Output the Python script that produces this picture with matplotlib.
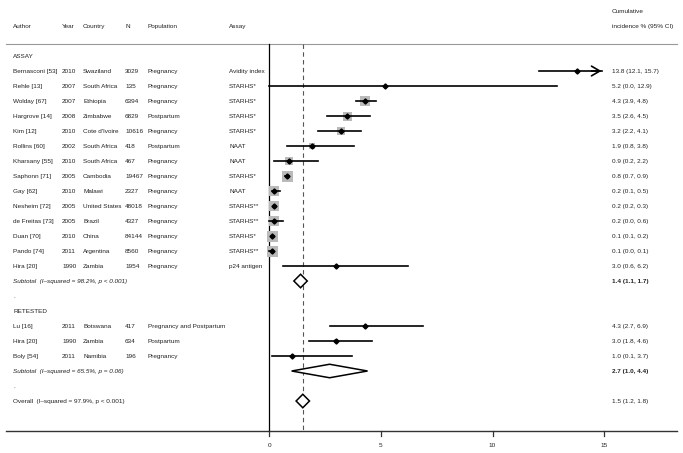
import matplotlib
matplotlib.use("Agg")
import matplotlib.pyplot as plt
from matplotlib.patches import Polygon

plt.rcParams['font.family'] = ['Liberation Sans Narrow', 'Liberation Sans', 'DejaVu Sans']

# study rows
authors = ["Bernasconi [53]", "Rehle [13]", "Wolday [67]", "Hargrove [14]", "Kim [12]",
           "Rollins [60]", "Kharsany [55]", "Saphonn [71]", "Gay [62]", "Nesheim [72]",
           "de Freitas [73]", "Duan [70]", "Pando [74]", "Hira [20]",
           "Lu [16]", "Hira [20]", "Boly [54]"]
years = ["2010", "2007", "2007", "2008", "2010", "2002", "2010", "2005", "2010", "2005",
         "2005", "2010", "2011", "1990", "2011", "1990", "2011"]
countries = ["Swaziland", "South Africa", "Ethiopia", "Zimbabwe", "Cote d'Ivoire",
             "South Africa", "South Africa", "Cambodia", "Malawi", "United States",
             "Brazil", "China", "Argentina", "Zambia", "Botswana", "Zambia", "Namibia"]
ns = ["3029", "135", "6394", "6829", "10616", "418", "467", "19467", "2327", "48018",
      "4327", "84144", "8560", "1954", "417", "634", "196"]
populations = ["Pregnancy", "Pregnancy", "Pregnancy", "Postpartum", "Pregnancy",
               "Postpartum", "Pregnancy", "Pregnancy", "Pregnancy", "Pregnancy",
               "Pregnancy", "Pregnancy", "Pregnancy", "Pregnancy",
               "Pregnancy and Postpartum", "Postpartum", "Pregnancy"]
assays = ["Avidity index", "STARHS*", "STARHS*", "STARHS*", "STARHS*", "NAAT", "NAAT",
          "STARHS*", "NAAT", "STARHS**", "STARHS**", "STARHS*", "STARHS**", "p24 antigen",
          "", "", ""]
est = [13.8, 5.2, 4.3, 3.5, 3.2, 1.9, 0.9, 0.8, 0.2, 0.2, 0.2, 0.1, 0.1, 3.0, 4.3, 3.0, 1.0]
lo = [12.1, 0.0, 3.9, 2.6, 2.2, 0.8, 0.2, 0.7, 0.1, 0.2, 0.0, 0.1, 0.0, 0.6, 2.7, 1.8, 0.1]
hi = [15.7, 12.9, 4.8, 4.5, 4.1, 3.8, 2.2, 0.9, 0.5, 0.3, 0.6, 0.2, 0.1, 6.2, 6.9, 4.6, 3.7]
weight_px = [0, 0, 10.5, 9, 8.5, 6, 8, 11, 10, 10.5, 10, 11, 11, 0, 0, 5, 3]
study_rows = list(range(1, 15)) + [18, 19, 20]

# pooled rows
pooled_labels = ["Subtotal  (I\u2013squared = 98.2%, p < 0.001)",
                 "Subtotal  (I\u2013squared = 65.5%, p = 0.06)",
                 "Overall  (I\u2013squared = 97.9%, p < 0.001)"]
pooled_est = [1.4, 2.7, 1.5]
pooled_lo = [1.1, 1.0, 1.2]
pooled_hi = [1.7, 4.4, 1.8]
pooled_rows = [15, 21, 23]
overall = 1.5
xticks = [0, 5, 10, 15]

W, H = 683, 453
fig = plt.figure(figsize=(W / 100, H / 100), dpi=100)
ax = fig.add_axes([0, 0, 1, 1])
ppu = 22.33   # pixels per unit
x0 = 269.3
ax.set_xlim(-x0 / ppu, (W - x0) / ppu)
ax.set_ylim((H - 56) / 15, -56 / 15)
ax.axis("off")

def px(x):
    return (x - x0) / ppu

fs = 4.6
tc = "#222222"
va = "center_baseline"
tr = ax.get_yaxis_transform()

# header
cols = [13, 62, 83, 125, 148, 229]
heads = ["Author", "Year", "Country", "N", "Population", "Assay"]
for c, h in zip(cols, heads):
    ax.text(c / W, -2, h, transform=tr, fontsize=fs, va=va, color=tc)
ax.text(612 / W, -3, "Cumulative", transform=tr, fontsize=fs, va=va, color=tc)
ax.text(612 / W, -2, "incidence % (95% CI)", transform=tr, fontsize=fs, va=va, color=tc)

# frame lines
ax.plot([px(6), px(677)], [-0.8, -0.8], color="#999999", lw=0.8)
ax.plot([px(6), px(677)], [25, 25], color="#333333", lw=1.0)
ax.plot([0, 0], [-0.8, 25], color="black", lw=0.9)
ax.plot([overall, overall], [-0.8, 25], color="#555555", lw=0.8, ls=(0, (4, 3)))
for t in xticks:
    ax.plot([t, t], [25, 25.35], color="#333333", lw=0.9)
    ax.text(t, 25.95, str(t), fontsize=fs, ha="center", va=va, color=tc)

# section labels
ax.text(13 / W, 0, "ASSAY", transform=tr, fontsize=fs, va=va, color=tc)
ax.text(13 / W, 17, "RETESTED", transform=tr, fontsize=fs, va=va, color=tc)
ax.text(13 / W, 16, ".", transform=tr, fontsize=fs, va=va, color=tc)
ax.text(13 / W, 22, ".", transform=tr, fontsize=fs, va=va, color=tc)

# studies
for i, r in enumerate(study_rows):
    vals = [authors[i], years[i], countries[i], ns[i], populations[i], assays[i]]
    for c, v in zip(cols, vals):
        ax.text(c / W, r, v, transform=tr, fontsize=fs, va=va, color=tc)
    if weight_px[i] > 0:
        ax.scatter(est[i], r, marker="s", s=(weight_px[i] * 0.72) ** 2,
                   color="#bababa", zorder=2, linewidths=0)
    if hi[i] > 15:
        ax.plot([lo[i], 14.9], [r, r], color="black", lw=1.2, zorder=3)
        ax.annotate("", xy=(15.0, r), xytext=(14.3, r),
                    arrowprops=dict(arrowstyle="->,head_length=0.6,head_width=0.35",
                                    color="black", lw=1.2), zorder=3)
    else:
        ax.plot([lo[i], hi[i]], [r, r], color="black", lw=1.2, zorder=3)
    ax.plot(est[i], r, marker="D", ms=2.6, color="black", zorder=4)
    ax.text(612 / W, r, f"{est[i]:.1f} ({lo[i]:.1f}, {hi[i]:.1f})", transform=tr,
            fontsize=fs, va=va, color=tc)

# pooled diamonds
for j, r in enumerate(pooled_rows):
    h = 0.45
    poly = Polygon([(pooled_lo[j], r), (pooled_est[j], r - h), (pooled_hi[j], r),
                    (pooled_est[j], r + h)], closed=True, facecolor="white",
                   edgecolor="black", lw=1.1, zorder=4)
    ax.add_patch(poly)
    subtotal = j < 2
    ax.text(13 / W, r, pooled_labels[j], transform=tr, fontsize=fs, va=va,
            style="italic" if subtotal else "normal", color=tc)
    ax.text(612 / W, r, f"{pooled_est[j]:.1f} ({pooled_lo[j]:.1f}, {pooled_hi[j]:.1f})",
            transform=tr, fontsize=fs, va=va, color=tc,
            fontweight="bold" if subtotal else "normal")

fig.savefig("out.png", dpi=100, facecolor="white")
